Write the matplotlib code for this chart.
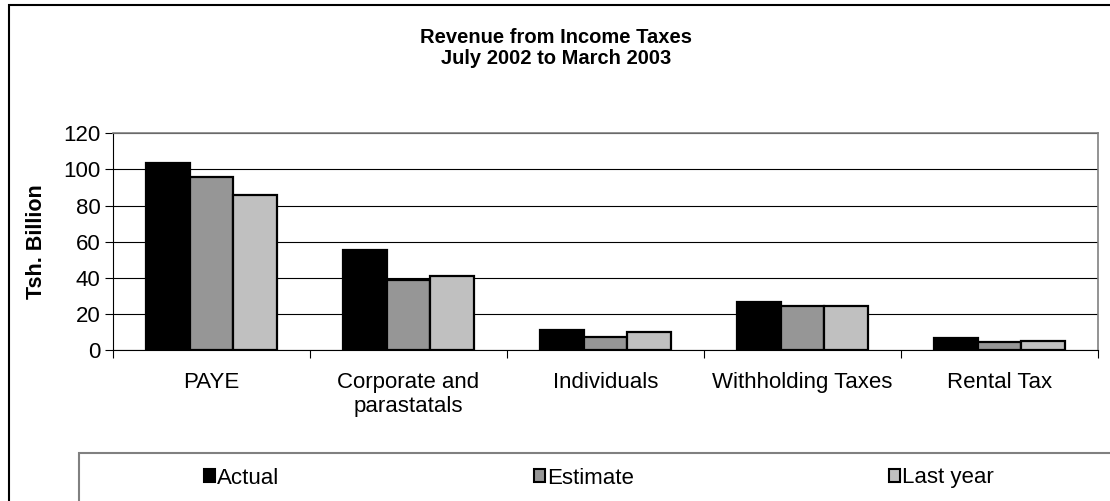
import numpy as np
import matplotlib
matplotlib.use('Agg')
import matplotlib.pyplot as plt
from matplotlib.patches import Rectangle, Patch

plt.rcParams['font.family'] = ['Liberation Sans', 'DejaVu Sans']

# ── data ───────────────────────────────────────────────────────────────────
categories = ["PAYE", "Corporate and\nparastatals", "Individuals",
              "Withholding Taxes", "Rental Tax"]
actual     = [103.6, 55.3, 10.9, 26.7, 6.5]
estimate   = [95.9, 38.8, 7.4, 24.3, 4.6]
last_year  = [85.6, 40.9, 9.8, 24.2, 5.2]
series_names = ["Actual", "Estimate", "Last year"]
yticks = [0, 20, 40, 60, 80, 100, 120]

colors = ["#000000", "#969696", "#C0C0C0"]

W, H = 1110, 501
fig = plt.figure(figsize=(W / 100, H / 100), dpi=100)
ax = fig.add_axes([113 / W, 1 - 350 / H, (1098 - 113) / W, (350 - 133.3) / H])

x = np.arange(len(categories))
bw = 1 / 4.5
for i, (vals, c) in enumerate(zip([actual, estimate, last_year], colors)):
    ax.bar(x + (i - 1) * bw, vals, width=bw, color=c, edgecolor="black",
           linewidth=1.6, zorder=3, label=series_names[i])

ax.set_xlim(-0.5, len(categories) - 0.5)
ax.set_ylim(0, 120)
ax.set_yticks(yticks)
ax.tick_params(axis='y', direction='out', length=6, width=0.8, pad=3,
               labelsize=16, colors='black')
ax.yaxis.grid(True, color='black', linewidth=0.8, zorder=0)

# category labels, tick marks between categories
ax.set_xticks(x)
ax.set_xticklabels(categories, fontsize=16, linespacing=1.15, va='top')
ax.tick_params(axis='x', which='major', length=0, pad=16)
ax.set_xticks(np.arange(-0.5, len(categories) + 0.5, 1), minor=True)
ax.tick_params(axis='x', which='minor', direction='out', length=6, width=0.8)

for side in ['top', 'right']:
    ax.spines[side].set_color('#808080')
    ax.spines[side].set_linewidth(1.2)
for side in ['left', 'bottom']:
    ax.spines[side].set_color('black')
    ax.spines[side].set_linewidth(0.8)

fig.text(36 / W, 1 - 242 / H, "Tsh. Billion", rotation=90, fontsize=15.5,
         fontweight='bold', ha='center', va='center')

fig.text(556 / W, 1 - 48 / H, "Revenue from Income Taxes\nJuly 2002 to March 2003",
         ha='center', va='center', fontsize=14.5, fontweight='bold', linespacing=1.1)

# outer chart border and legend box (both run off the image edge)
fig.patches.append(Rectangle((9 / W, -0.1), 1.2, 1 - 5 / H + 0.1,
                             transform=fig.transFigure, fill=False,
                             edgecolor='black', linewidth=1.5))
fig.patches.append(Rectangle((79 / W, -0.1), 1.2, 1 - 453 / H + 0.1,
                             transform=fig.transFigure, fill=False,
                             edgecolor='#808080', linewidth=1.5))

handles = [Patch(facecolor=c, edgecolor='black', linewidth=1.5) for c in colors]
fig.legend(handles, series_names, loc='center left',
           bbox_to_anchor=(204 / W, 1 - 478 / H), ncol=3, frameon=False,
           fontsize=16, handlelength=0.5, handleheight=0.55,
           handletextpad=0.1, columnspacing=11.45, borderpad=0, borderaxespad=0)

fig.savefig("out.png", dpi=100)
